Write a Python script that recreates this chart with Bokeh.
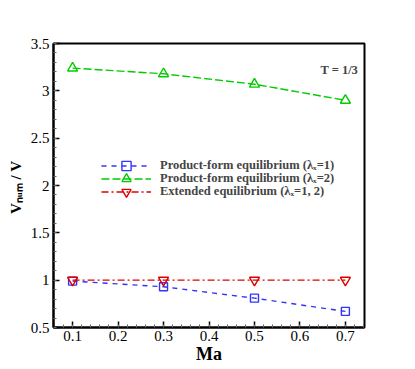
from bokeh.plotting import figure
from bokeh.models import Label, Legend, LegendItem, FixedTicker, Range1d
from bokeh.embed import file_html
from bokeh.resources import INLINE

ma = [0.1, 0.3, 0.5, 0.7]
prod_l1 = [0.99, 0.93, 0.81, 0.67]
prod_l2 = [3.24, 3.18, 3.07, 2.90]
extended = [1.0, 1.0, 1.0, 1.0]
x_ticks = [0.1, 0.2, 0.3, 0.4, 0.5, 0.6, 0.7]
y_ticks = [0.5, 1, 1.5, 2, 2.5, 3, 3.5]
labels = ["Product-form equilibrium (\u03bb\u2093=1)",
          "Product-form equilibrium (\u03bb\u2093=2)",
          "Extended equilibrium (\u03bb\u2093=1, 2)"]

SERIF = "Liberation Serif"

p = figure(width=405, height=368, output_backend="svg", toolbar_location=None,
           x_range=Range1d(0.058, 0.742), y_range=Range1d(0.5, 3.5),
           min_border_left=53, min_border_right=41, min_border_top=43, min_border_bottom=41)
p.outline_line_color = "black"
p.outline_line_width = 2
p.grid.visible = False
p.background_fill_color = "white"
p.border_fill_color = "white"

p.xaxis.ticker = FixedTicker(ticks=x_ticks, minor_ticks=[round(0.06 + 0.02*i, 2) for i in range(35)])
p.yaxis.ticker = FixedTicker(ticks=y_ticks, minor_ticks=[round(0.5 + 0.1*i, 1) for i in range(31)])
for ax in (p.xaxis, p.yaxis):
    ax.major_tick_in = 6
    ax.major_tick_out = 0
    ax.minor_tick_in = 3
    ax.minor_tick_out = 0
    ax.axis_line_width = 2
    ax.major_tick_line_width = 1.5
    ax.minor_tick_line_color = "#666666"
    ax.major_label_text_font = SERIF
    ax.major_label_text_font_size = "15px"
    ax.major_label_text_color = "black"
    ax.axis_label_text_font = SERIF
    ax.axis_label_text_font_style = "bold"
    ax.axis_label_text_color = "black"
p.xaxis.major_label_standoff = 3
p.yaxis.major_label_standoff = 4
p.yaxis.major_label_overrides = {t: f"{t:g}" for t in y_ticks}
p.xaxis.axis_label = "Ma"
p.xaxis.axis_label_text_font_size = "18px"
p.xaxis.axis_label_standoff = 0
p.yaxis.axis_label = "V\u2099\u1d64\u2098 / V" + "\u00a0"
p.yaxis.axis_label_text_font_size = "15px"
p.yaxis.axis_label_standoff = 4

r1 = p.line(ma, prod_l1, line_color="#3333ff", line_width=1.4, line_dash="5 5")
m1 = p.scatter(ma, prod_l1, marker="square", size=8, fill_color=None, line_color="#3333ff", line_width=1.4)
r2 = p.line(ma, prod_l2, line_color="#00cc00", line_width=1.4, line_dash="8 3")
m2 = p.scatter(ma, prod_l2, marker="triangle", size=10, fill_color=None, line_color="#00cc00", line_width=1.4)
r3 = p.line(ma, extended, line_color="#dd0000", line_width=1.4, line_dash="7 3 2 3")
m3 = p.scatter(ma, extended, marker="inverted_triangle", size=10, fill_color=None, line_color="#dd0000", line_width=1.4)

for lab, rends, loc in ((labels[0], [r1, m1], (48, 150)),
                        (labels[1], [r2, m2], (48, 137)),
                        (labels[2], [r3, m3], (48, 124))):
    lg = Legend(items=[LegendItem(label=lab, renderers=rends)], location=loc,
                padding=0, margin=0, spacing=0, glyph_width=50, glyph_height=23,
                label_height=13, label_standoff=9,
                label_text_font=SERIF, label_text_font_size="12.5px", label_text_font_style="bold",
                border_line_alpha=0, background_fill_alpha=0)
    p.add_layout(lg)

p.add_layout(Label(x=0.645, y=3.22, text="T = 1/3", text_font=SERIF, text_font_size="12.5px",
                   text_font_style="bold", text_align="left", text_baseline="middle"))

open("out.html", "w").write(file_html(p, INLINE))
